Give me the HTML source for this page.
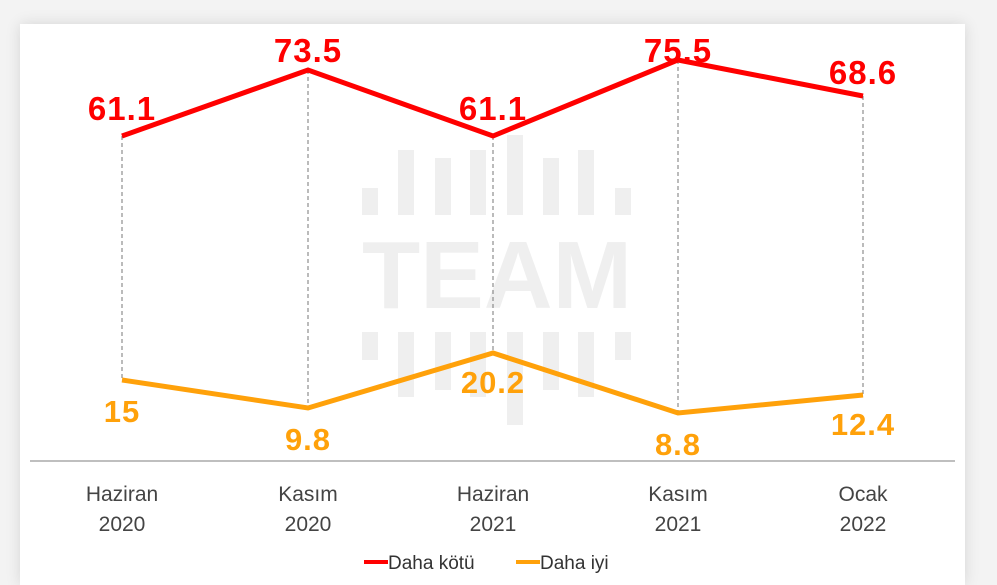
<!DOCTYPE html>
<html><head><style>
html,body{margin:0;width:997px;height:585px;overflow:hidden}
body{background:#f3f3f3;font-family:"Liberation Sans",sans-serif;position:relative}
.card{position:absolute;left:20px;top:24px;width:945px;height:561px;background:#fff;box-shadow:0 0 14px rgba(0,0,0,0.12)}
</style></head><body>
<div class="card"></div>
<svg width="997" height="585" style="position:absolute;left:0;top:0" font-family="Liberation Sans, sans-serif">
<g fill="#efefef">
<rect x="362" y="188" width="16" height="27"/><rect x="398" y="150" width="16" height="65"/><rect x="435" y="158" width="16" height="57"/><rect x="470" y="150" width="16" height="65"/><rect x="507" y="135" width="16" height="80"/><rect x="543" y="158" width="16" height="57"/><rect x="578" y="150" width="16" height="65"/><rect x="615" y="188" width="16" height="27"/>
<rect x="362" y="332" width="16" height="28"/><rect x="398" y="332" width="16" height="65"/><rect x="435" y="332" width="16" height="58"/><rect x="470" y="332" width="16" height="65"/><rect x="507" y="332" width="16" height="93"/><rect x="543" y="332" width="16" height="58"/><rect x="578" y="332" width="16" height="65"/><rect x="615" y="332" width="16" height="28"/>
<text x="362" y="308" font-size="96" font-weight="bold" textLength="270" lengthAdjust="spacingAndGlyphs">TEAM</text>
</g>
<g stroke="#777" stroke-width="1" stroke-dasharray="4,3">
<line x1="122" y1="136" x2="122" y2="380"/><line x1="308" y1="70" x2="308" y2="408"/><line x1="493" y1="136" x2="493" y2="353"/><line x1="678" y1="60" x2="678" y2="413"/><line x1="863" y1="96" x2="863" y2="395"/>
</g>
<line x1="30" y1="461" x2="955" y2="461" stroke="#aaa" stroke-width="1.5"/>
<polyline points="122,136 308,70 493,136 678,60 863,96" fill="none" stroke="#ff0000" stroke-width="5"/>
<polyline points="122,380 308,408 493,353 678,413 863,395" fill="none" stroke="#ffa10a" stroke-width="5"/>
<g fill="#ff0000" font-size="33" font-weight="bold" text-anchor="middle" letter-spacing="1">
<text x="122" y="120">61.1</text><text x="308" y="62">73.5</text><text x="493" y="120">61.1</text><text x="678" y="62">75.5</text><text x="863" y="84">68.6</text>
</g>
<g fill="#ffa10a" font-size="31" font-weight="bold" text-anchor="middle" letter-spacing="1">
<text x="122" y="422">15</text><text x="308" y="450">9.8</text><text x="493" y="393">20.2</text><text x="678" y="455">8.8</text><text x="863" y="435">12.4</text>
</g>
<g fill="#444" font-size="21" text-anchor="middle">
<text x="122" y="501">Haziran</text><text x="122" y="531">2020</text>
<text x="308" y="501">Kasım</text><text x="308" y="531">2020</text>
<text x="493" y="501">Haziran</text><text x="493" y="531">2021</text>
<text x="678" y="501">Kasım</text><text x="678" y="531">2021</text>
<text x="863" y="501">Ocak</text><text x="863" y="531">2022</text>
</g>
<line x1="364" y1="562" x2="388" y2="562" stroke="#ff0000" stroke-width="4"/>
<text x="388" y="569" font-size="19" fill="#333">Daha kötü</text>
<line x1="516" y1="562" x2="540" y2="562" stroke="#ffa10a" stroke-width="4"/>
<text x="540" y="569" font-size="19" fill="#333">Daha iyi</text>
</svg>
</body></html>
